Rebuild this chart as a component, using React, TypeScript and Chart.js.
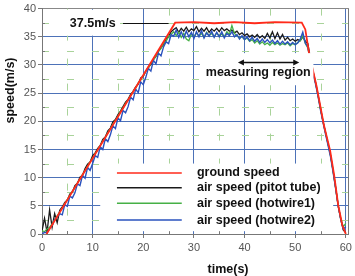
import React, { useEffect, useRef } from 'react';
import { Chart, registerables } from 'chart.js';

Chart.register(...registerables);

const TIME = [
  0, 0.5, 1, 1.5, 2, 2.5, 3, 3.5, 4, 4.5,
  5, 5.5, 6, 6.5, 7, 7.5, 8, 8.5, 9, 9.5,
  10, 10.5, 11, 11.5, 12, 12.5, 13, 13.5, 14, 14.5,
  15, 15.5, 16, 16.5, 17, 17.5, 18, 18.5, 19, 19.5,
  20, 20.5, 21, 21.5, 22, 22.5, 23, 23.5, 24, 24.5,
  25, 25.5, 26, 26.5, 27, 27.5, 28, 28.5, 29, 29.5,
  30, 30.5, 31, 31.5, 32, 32.5, 33, 33.5, 34, 34.5,
  35, 35.5, 36, 36.5, 37, 37.5, 38, 38.5, 39, 39.5,
  40, 40.5, 41, 41.5, 42, 42.5, 43, 43.5, 44, 44.5,
  45, 45.5, 46, 46.5, 47, 47.5, 48, 48.5, 49, 49.5,
  50, 50.5, 51, 51.5, 52, 52.5, 53, 53.5, 54, 54.5,
  55, 55.5, 56, 56.5, 57, 57.5, 58, 58.5, 59, 59.5,
  60,
];

const PITOT = [
  0.5, 2.8, 0.3, 4.3, 1.2, 3.6, 2.0, 4.2, 4.8, 5.6,
  6.0, 7.1, 7.4, 8.6, 9.0, 10.1, 10.4, 11.6, 12.4, 12.8,
  13.9, 14.4, 15.2, 15.7, 16.8, 17.2, 18.3, 18.8, 19.9, 20.3,
  21.2, 21.8, 22.6, 23.4, 23.9, 24.8, 25.3, 26.1, 26.6, 27.7,
  28.0, 28.9, 29.6, 30.1, 31.0, 31.5, 32.4, 33.1, 33.6, 34.6,
  35.0, 35.9, 36.3, 36.6, 35.8, 36.5, 36.0, 36.7, 35.9, 36.4,
  36.1, 36.8, 35.9, 36.5, 36.0, 36.6, 35.8, 36.4, 36.0, 36.5,
  35.9, 36.6, 36.1, 36.4, 36.0, 36.2, 35.7, 36.0, 35.4, 35.7,
  35.2, 35.5, 35.0, 35.3, 34.9, 35.4, 34.8, 35.2, 34.7, 35.6,
  34.8, 35.9, 34.7, 35.7, 34.6, 35.4, 34.4, 34.9, 34.3, 34.6,
  34.2, 34.5, 34.3, 35.0, 34.2, 33.8, 31.2, 29.0, 27.0, 24.8,
  22.3, 20.0, 18.0, 16.0, 13.9, 11.2, 8.2, 5.0, 2.6, 0.7,
  0.2,
];

const HOTWIRE1 = [
  0.6, 0.4, 0.9, 1.2, 1.8, 2.5, 3.2, 3.9, 4.6, 5.4,
  6.1, 6.8, 7.6, 8.2, 9.1, 9.7, 10.6, 11.2, 12.0, 12.8,
  13.4, 14.3, 14.9, 15.7, 16.5, 17.1, 18.0, 18.6, 19.5, 20.1,
  20.9, 21.7, 22.3, 23.2, 23.7, 24.5, 25.3, 25.9, 26.8, 27.3,
  28.1, 28.9, 29.4, 30.3, 30.8, 31.6, 32.4, 32.9, 33.8, 34.2,
  35.0, 35.4, 35.9, 35.2, 35.8, 34.9, 35.6, 34.6, 34.3, 35.5,
  35.0, 35.7, 35.1, 35.6, 34.9, 35.8, 35.2, 35.6, 35.0, 35.7,
  35.1, 35.5, 35.0, 35.9, 35.4, 37.0, 35.6, 35.2, 34.8, 35.0,
  34.5, 34.8, 34.2, 34.5, 33.9, 34.3, 33.7, 34.1, 33.6, 33.9,
  33.5, 34.0, 33.6, 33.9, 33.5, 33.8, 33.6, 33.9, 33.4, 33.8,
  33.6, 34.0, 34.3, 35.2, 33.8, 33.0, 30.8, 28.7, 26.9, 24.6,
  22.2, 19.9, 17.9, 15.9, 13.8, 11.0, 8.1, 5.0, 2.7, 1.3,
  1.9,
];

const HOTWIRE2 = [
  0.0, 0.3, 0.2, 1.0, 1.5, 2.6, 3.0, 3.6, 3.4, 5.2,
  4.9, 6.7, 6.4, 7.3, 8.9, 8.6, 10.4, 9.9, 11.8, 11.3,
  12.5, 13.9, 13.6, 15.5, 15.0, 16.9, 16.4, 17.6, 19.2, 18.7,
  20.6, 20.1, 21.9, 21.5, 22.6, 24.3, 23.8, 25.7, 25.1, 27.0,
  26.5, 27.8, 29.4, 28.9, 30.8, 30.2, 32.1, 31.6, 33.2, 34.1,
  33.8, 35.4, 35.1, 36.2, 34.9, 35.9, 34.8, 36.0, 35.0, 35.8,
  34.7, 35.9, 35.0, 36.1, 34.8, 35.7, 35.1, 36.0, 34.9, 35.8,
  35.0, 35.9, 34.8, 35.6, 35.2, 35.9, 35.0, 35.4, 34.6, 35.2,
  34.5, 35.0, 34.3, 34.9, 34.2, 34.7, 34.0, 34.6, 34.0, 34.5,
  33.9, 34.4, 33.8, 34.3, 33.7, 34.2, 33.7, 34.1, 33.6, 34.0,
  33.6, 33.9, 34.6, 35.8, 33.9, 33.2, 30.6, 28.5, 26.7, 24.5,
  22.0, 19.8, 17.7, 15.7, 13.6, 10.9, 8.0, 4.9, 2.6, 0.9,
  1.3,
];

const GROUND_TIME = [0.9, 26.3, 30, 34, 38, 42, 46, 51.3, 52.0, 52.8, 54.2, 55.7, 56.9, 57.7, 58.5, 59.3, 60.0];
const GROUND_SPEED = [0, 37.5, 37.6, 37.4, 37.6, 37.4, 37.6, 37.5, 36.3, 31.8, 26.3, 19.2, 14.8, 10.4, 5.1, 1.6, 0];

const X_TICKS = [0, 10, 20, 30, 40, 50, 60];
const Y_TICKS = [0, 5, 10, 15, 20, 25, 30, 35, 40];
const MINOR_X = [5, 15, 25, 35, 45, 55];
const MINOR_Y = [2.5, 7.5, 12.5, 17.5, 22.5, 27.5, 32.5, 37.5];

const SERIES_NAMES = ['ground speed', 'air speed (pitot tube)', 'air speed (hotwire1)', 'air speed (hotwire2)'];
const SERIES_COLORS = ['#ff2a1a', '#1a1a1a', '#46b046', '#2a52be'];

const FONT = '"Liberation Sans", Arial, Helvetica, sans-serif';

const decor = {
  id: 'decor',
  beforeDatasetsDraw(chart: any) {
    const { ctx, chartArea: ca } = chart;
    const x = chart.scales.x;
    const y = chart.scales.y;
    const X = (v: number) => x.getPixelForValue(v);
    const Y = (v: number) => y.getPixelForValue(v);
    ctx.save();
    ctx.strokeStyle = '#a9d39a';
    ctx.lineWidth = 1;
    ctx.setLineDash([7, 18]);
    for (const v of MINOR_X) {
      const px = Math.round(X(v)) + 0.5;
      ctx.beginPath();
      ctx.moveTo(px, ca.top);
      ctx.lineTo(px, ca.bottom);
      ctx.stroke();
    }
    for (const v of MINOR_Y) {
      const py = Math.round(Y(v)) + 0.5;
      ctx.beginPath();
      ctx.moveTo(ca.left, py);
      ctx.lineTo(ca.right, py);
      ctx.stroke();
    }
    ctx.setLineDash([]);
    ctx.strokeStyle = '#777';
    for (const v of MINOR_X) {
      const px = Math.round(X(v)) + 0.5;
      ctx.beginPath();
      ctx.moveTo(px, ca.bottom);
      ctx.lineTo(px, ca.bottom - 3);
      ctx.stroke();
    }
    for (const v of MINOR_Y) {
      const py = Math.round(Y(v)) + 0.5;
      ctx.beginPath();
      ctx.moveTo(ca.left, py);
      ctx.lineTo(ca.left + 3, py);
      ctx.stroke();
    }
    ctx.beginPath();
    ctx.moveTo(Math.round(ca.right) - 0.5, ca.top);
    ctx.lineTo(Math.round(ca.right) - 0.5, ca.bottom);
    ctx.stroke();
    ctx.fillStyle = '#ffffff';
    ctx.fillRect(X(3.95), Y(39.8), X(15.4) - X(3.95), Y(35.2) - Y(39.8));
    ctx.fillRect(X(11.5), Y(12.5), X(57.5) - X(11.5), Y(0.5) - Y(12.5));
    ctx.restore();
  },
  afterDatasetsDraw(chart: any) {
    const { ctx } = chart;
    const x = chart.scales.x;
    const y = chart.scales.y;
    const X = (v: number) => x.getPixelForValue(v);
    const Y = (v: number) => y.getPixelForValue(v);
    ctx.save();
    ctx.fillStyle = '#ffffff';
    ctx.fillRect(X(31.2), Y(32.1), X(53.6) - X(31.2), Y(26.4) - Y(32.1));
    const ay = Math.round(Y(30.5)) + 0.5;
    const ax1 = X(38.7);
    const ax2 = X(50.8);
    ctx.strokeStyle = '#111';
    ctx.fillStyle = '#111';
    ctx.lineWidth = 1.3;
    ctx.beginPath();
    ctx.moveTo(ax1 + 3, ay);
    ctx.lineTo(ax2 - 3, ay);
    ctx.stroke();
    ctx.beginPath();
    ctx.moveTo(ax1, ay);
    ctx.lineTo(ax1 + 6, ay - 3);
    ctx.lineTo(ax1 + 6, ay + 3);
    ctx.closePath();
    ctx.fill();
    ctx.beginPath();
    ctx.moveTo(ax2, ay);
    ctx.lineTo(ax2 - 6, ay - 3);
    ctx.lineTo(ax2 - 6, ay + 3);
    ctx.closePath();
    ctx.fill();
    ctx.font = `bold 12.5px ${FONT}`;
    ctx.textAlign = 'center';
    ctx.textBaseline = 'middle';
    ctx.fillText('measuring region', X(42.7), Y(28.6));
    ctx.textAlign = 'left';
    ctx.fillText('37.5m/s', X(5.5), Y(37.4));
    ctx.lineWidth = 1;
    const ly = Math.round(Y(37.4)) + 0.5;
    ctx.beginPath();
    ctx.moveTo(X(16), ly);
    ctx.lineTo(X(25), ly);
    ctx.stroke();
    const rows = [10.84, 8.19, 5.46, 2.47];
    ctx.font = `bold 12.5px ${FONT}`;
    ctx.textAlign = 'left';
    ctx.textBaseline = 'middle';
    SERIES_NAMES.forEach((name, i) => {
      const ry = Y(rows[i]);
      ctx.strokeStyle = SERIES_COLORS[i];
      ctx.lineWidth = 1.5;
      ctx.beginPath();
      ctx.moveTo(X(14.8), ry);
      ctx.lineTo(X(27.6), ry);
      ctx.stroke();
      ctx.fillStyle = '#111';
      ctx.fillText(name, X(30.6), ry);
    });
    ctx.restore();
  },
  afterDraw(chart: any) {
    const { ctx } = chart;
    ctx.save();
    ctx.fillStyle = '#111';
    ctx.font = `bold 12.5px ${FONT}`;
    ctx.textAlign = 'center';
    ctx.textBaseline = 'middle';
    ctx.fillText('time(s)', 228, 270);
    ctx.translate(11, 90.5);
    ctx.rotate(-Math.PI / 2);
    ctx.fillText('speed(m/s)', 0, 0);
    ctx.restore();
  },
};

export default function App() {
  const ref = useRef<HTMLCanvasElement | null>(null);
  useEffect(() => {
    if (!ref.current) return;
    const mk = (vals: number[]) => TIME.map((t, i) => ({ x: t, y: vals[i] }));
    const chart = new Chart(ref.current, {
      type: 'line',
      data: {
        datasets: [
          { label: SERIES_NAMES[0], data: GROUND_TIME.map((t, i) => ({ x: t, y: GROUND_SPEED[i] })), borderColor: SERIES_COLORS[0], borderWidth: 1.8, order: 0 },
          { label: SERIES_NAMES[3], data: mk(HOTWIRE2), borderColor: SERIES_COLORS[3], borderWidth: 1.4, order: 1 },
          { label: SERIES_NAMES[2], data: mk(HOTWIRE1), borderColor: SERIES_COLORS[2], borderWidth: 1.3, order: 2 },
          { label: SERIES_NAMES[1], data: mk(PITOT), borderColor: SERIES_COLORS[1], borderWidth: 1.3, order: 3 },
        ],
      },
      options: {
        responsive: false,
        animation: false,
        layout: { padding: { top: 7, right: 6, left: 0, bottom: 0 } },
        plugins: { legend: { display: false }, tooltip: { enabled: false } },
        elements: { point: { radius: 0 }, line: { tension: 0 } },
        scales: {
          x: {
            type: 'linear',
            min: 0,
            max: 60.6,
            afterBuildTicks: (s: any) => { s.ticks = X_TICKS.map((v) => ({ value: v })); },
            afterFit: (s: any) => { s.height = 42; },
            grid: { color: '#4d72b8', lineWidth: 1, tickLength: 4, tickColor: '#777' },
            border: { color: '#777' },
            ticks: { color: '#555', font: { family: FONT, size: 11 }, padding: 3, maxRotation: 0 },
          },
          y: {
            type: 'linear',
            min: 0,
            max: 40,
            afterBuildTicks: (s: any) => { s.ticks = Y_TICKS.map((v) => ({ value: v })); },
            afterFit: (s: any) => { s.width = 42; },
            grid: {
              color: (c: any) => (c.tick && c.tick.value === 40 ? '#888' : '#4d72b8'),
              lineWidth: 1,
              tickLength: 4,
              tickColor: '#777',
            },
            border: { color: '#777' },
            ticks: { color: '#555', font: { family: FONT, size: 11 }, padding: 2 },
          },
        },
      },
      plugins: [decor],
    } as any);
    return () => chart.destroy();
  }, []);
  return (
    <div style={{ position: 'fixed', left: 0, top: 0, width: 355, height: 276, background: '#fff' }}>
      <canvas ref={ref} width={355} height={276} style={{ display: 'block' }} />
    </div>
  );
}
